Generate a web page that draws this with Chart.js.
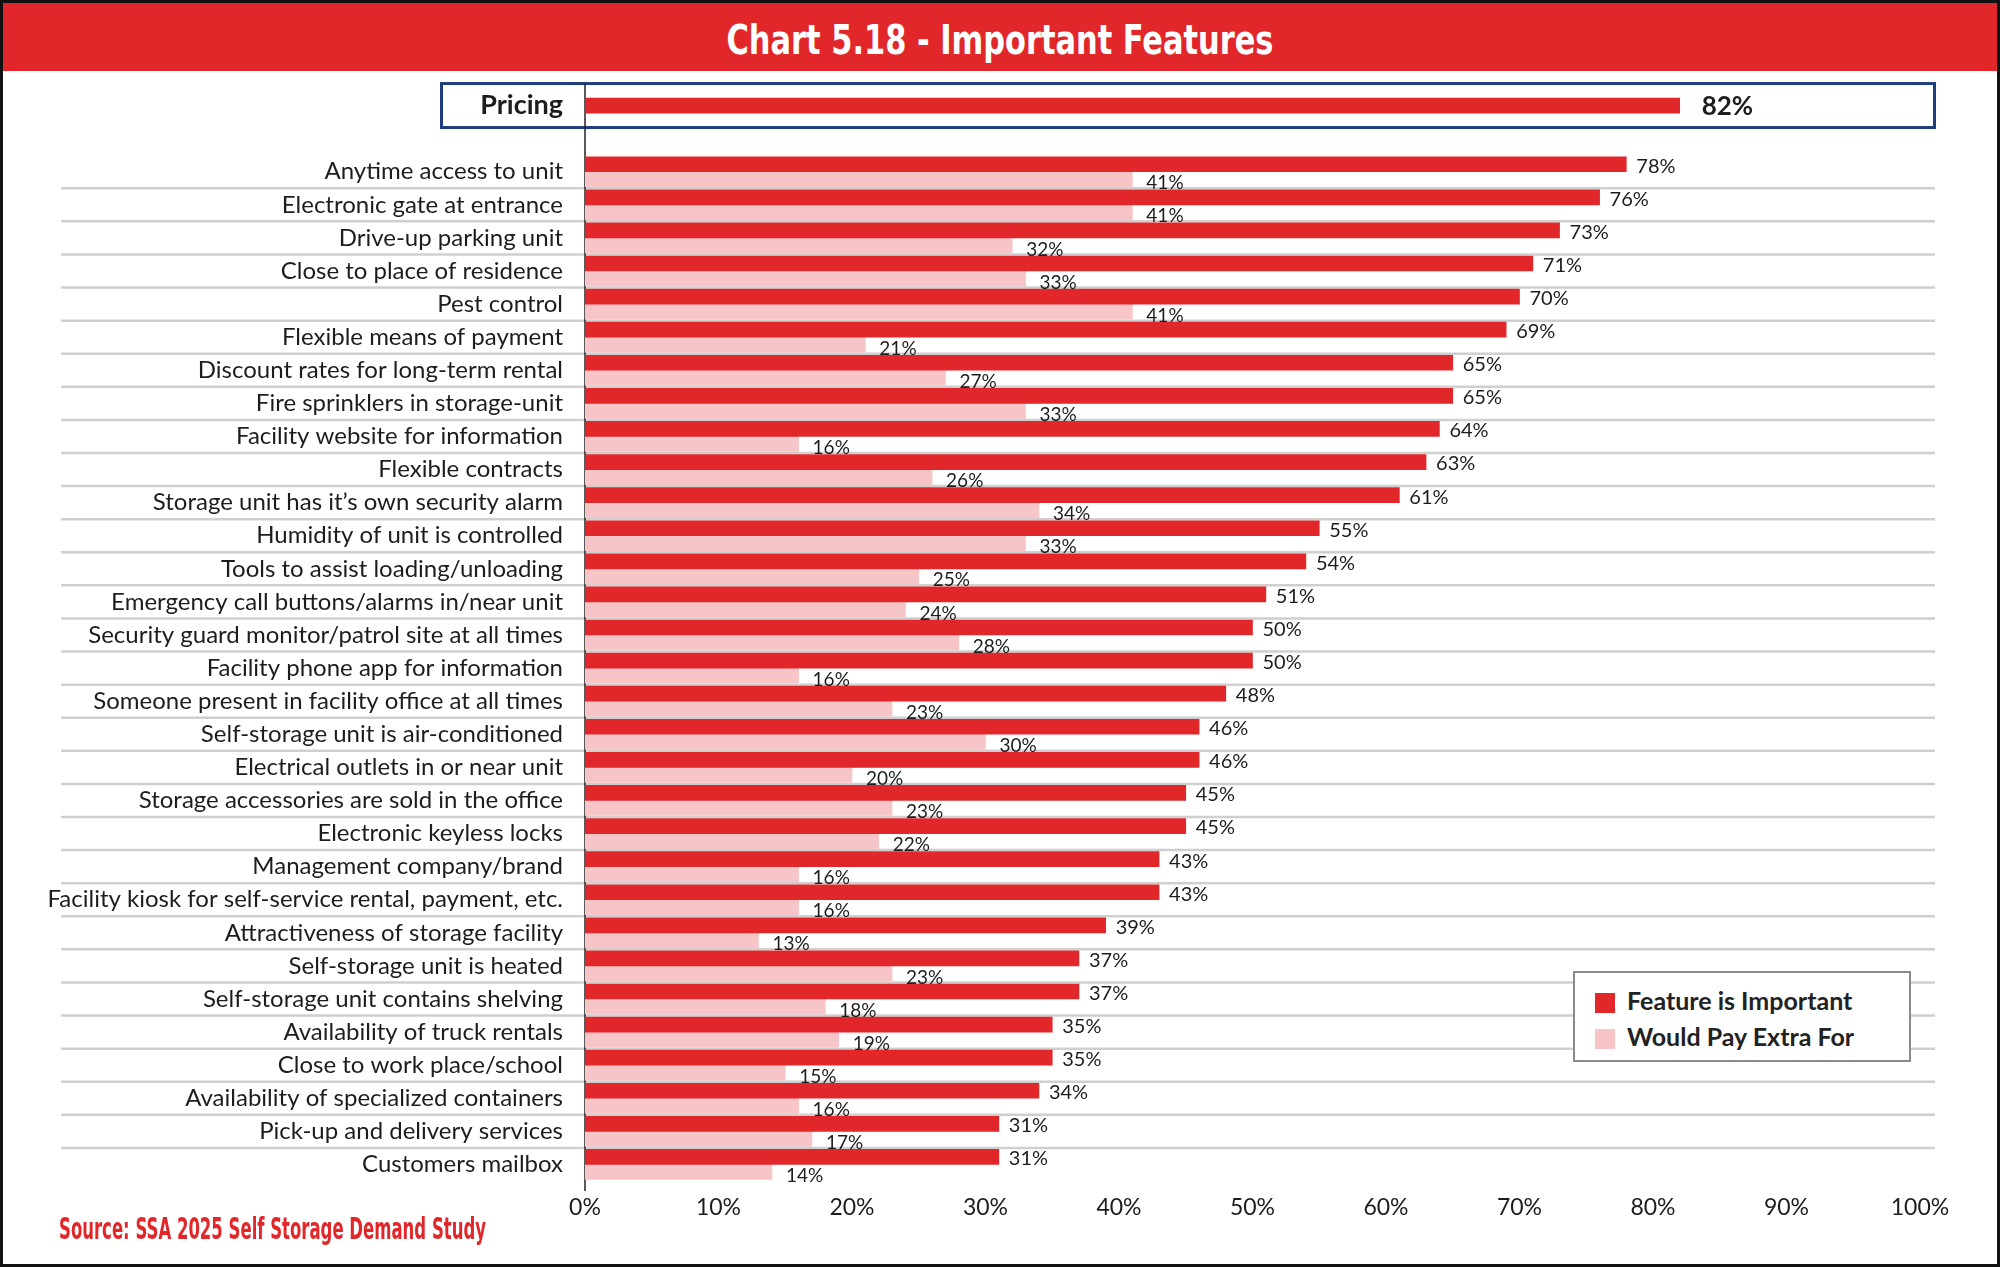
<!DOCTYPE html>
<html>
<head>
<meta charset="utf-8">
<script src="https://cdn.jsdelivr.net/npm/chart.js@4.4.1/dist/chart.umd.min.js"></script>
<style>
html, body { margin: 0; padding: 0; background: #fff; }
#page { position: relative; width: 2000px; height: 1267px; overflow: hidden; background: #fff; }
#chart { position: absolute; left: 0; top: 0; }
#titlebar { position: absolute; left: 0; top: 0; width: 2000px; height: 71px; background: #e1272a; }
#title { position: absolute; top: 18px; left: 1000px; white-space: nowrap; color: #fff;
  font-family: "Liberation Sans Narrow", "DejaVu Sans Condensed", sans-serif; font-weight: bold; font-size: 40px; line-height: 44px; }
#source { position: absolute; left: 59px; top: 1210px; white-space: nowrap; color: #e1272a;
  font-family: "Liberation Sans Narrow", "DejaVu Sans Condensed", sans-serif; font-weight: bold; font-size: 31px; line-height: 36px; }
#legend { position: absolute; left: 1573px; top: 971px; width: 338px; height: 91px; box-sizing: border-box;
  border: 2px solid #8a8a8a; background: #fff; font-family: Lato, sans-serif; font-weight: bold; font-size: 25px; color: #222; }
#legend .item { position: absolute; left: 20px; height: 30px; line-height: 30px; white-space: nowrap; }
#legend .sw { display: inline-block; width: 20px; height: 20px; vertical-align: -3px; margin-right: 12px; }
#frame { position: absolute; left: 0; top: 0; width: 2000px; height: 1267px; box-sizing: border-box; border: 3px solid #111; pointer-events: none; }
</style>
</head>
<body>
<div id="page">
  <div id="titlebar"></div>
  <div id="title">Chart 5.18 - Important Features</div>
  <canvas id="chart" width="2000" height="1267"></canvas>
  <div id="legend">
    <div class="item" style="top:12px"><span class="sw" style="background:#e1272a"></span>Feature is Important</div>
    <div class="item" style="top:48px"><span class="sw" style="background:#f7c4c8"></span>Would Pay Extra For</div>
  </div>
  <div id="source">Source: SSA 2025 Self Storage Demand Study</div>
  <div id="frame"></div>
</div>
<script>
// categories (Pricing on top, then a spacer row, then the other features)
const features = [
  'Pricing', '',
  'Anytime access to unit',
  'Electronic gate at entrance',
  'Drive-up parking unit',
  'Close to place of residence',
  'Pest control',
  'Flexible means of payment',
  'Discount rates for long-term rental',
  'Fire sprinklers in storage-unit',
  'Facility website for information',
  'Flexible contracts',
  'Storage unit has it\u2019s own security alarm',
  'Humidity of unit is controlled',
  'Tools to assist loading/unloading',
  'Emergency call buttons/alarms in/near unit',
  'Security guard monitor/patrol site at all times',
  'Facility phone app for information',
  'Someone present in facility office at all times',
  'Self-storage unit is air-conditioned',
  'Electrical outlets in or near unit',
  'Storage accessories are sold in the office',
  'Electronic keyless locks',
  'Management company/brand',
  'Facility kiosk for self-service rental, payment, etc.',
  'Attractiveness of storage facility',
  'Self-storage unit is heated',
  'Self-storage unit contains shelving',
  'Availability of truck rentals',
  'Close to work place/school',
  'Availability of specialized containers',
  'Pick-up and delivery services',
  'Customers mailbox'
];
const featureImportant = [82, null, 78, 76, 73, 71, 70, 69, 65, 65, 64, 63, 61, 55, 54, 51, 50, 50, 48, 46, 46, 45, 45, 43, 43, 39, 37, 37, 35, 35, 34, 31, 31];
const wouldPayExtra    = [null, null, 41, 41, 32, 33, 41, 21, 27, 33, 16, 26, 34, 33, 25, 24, 28, 16, 23, 30, 20, 23, 22, 16, 16, 13, 23, 18, 19, 15, 16, 17, 14];
const xTicks = [0, 10, 20, 30, 40, 50, 60, 70, 80, 90, 100];

const RED = '#e1272a';
const PINK = '#f7c4c8';

// squeeze condensed texts to the widths in the reference
function fitWidth(id, target, centered) {
  const el = document.getElementById(id);
  const w = el.getBoundingClientRect().width;
  const k = target / w;
  el.style.transformOrigin = 'left top';
  el.style.transform = (centered ? 'translateX(' + (-target / 2) + 'px) ' : '') + 'scaleX(' + k + ')';
}
fitWidth('title', 547, true);
fitWidth('source', 427, false);

const decorations = {
  id: 'decorations',
  beforeDatasetsDraw(chart) {
    const ctx = chart.ctx;
    const y = chart.scales.y;
    const x0 = chart.scales.x.getPixelForValue(0);
    const step = y.getPixelForValue(1) - y.getPixelForValue(0);
    ctx.save();
    // row separators
    ctx.strokeStyle = '#cfcfcf';
    ctx.lineWidth = 2.5;
    for (let i = 2; i < features.length - 1; i++) {
      const yy = y.getPixelForValue(i) + step / 2;
      ctx.beginPath();
      ctx.moveTo(61, yy);
      ctx.lineTo(1935, yy);
      ctx.stroke();
    }
    // Pricing box
    const pc = y.getPixelForValue(0);
    ctx.strokeStyle = '#1d3d7c';
    ctx.lineWidth = 3;
    ctx.strokeRect(441.5, pc - 22, 1493, 44);
    // value axis line
    ctx.strokeStyle = '#222';
    ctx.lineWidth = 1.5;
    ctx.beginPath();
    ctx.moveTo(x0, pc - 22);
    ctx.lineTo(x0, chart.chartArea.bottom + 10);
    ctx.stroke();
    ctx.restore();
  },
  afterDatasetsDraw(chart) {
    const ctx = chart.ctx;
    ctx.save();
    ctx.fillStyle = '#1d1d1d';
    ctx.textBaseline = 'middle';
    ctx.textAlign = 'left';
    chart.data.datasets.forEach((ds, d) => {
      const meta = chart.getDatasetMeta(d);
      meta.data.forEach((el, i) => {
        const v = ds.data[i];
        if (v === null) return;
        if (d === 0 && i === 0) {
          ctx.font = 'bold 26px Lato';
          ctx.fillText(v + '%', el.x + 22, el.y + 1);
        } else if (d === 0) {
          ctx.font = '20px Lato';
          ctx.fillText(v + '%', el.x + 10, el.y + 2);
        } else {
          ctx.font = '19px Lato';
          ctx.fillText(v + '%', el.x + 14, el.y + 4);
        }
      });
    });
    ctx.restore();
  }
};

new Chart(document.getElementById('chart'), {
  type: 'bar',
  data: {
    labels: features,
    datasets: [
      { label: 'Feature is Important', data: featureImportant, backgroundColor: RED, barThickness: 15 },
      { label: 'Would Pay Extra For', data: wouldPayExtra, backgroundColor: PINK, barThickness: 15 }
    ]
  },
  options: {
    indexAxis: 'y',
    responsive: false,
    animation: false,
    skipNull: true,
    layout: { padding: { top: 89, right: 80, left: 0, bottom: 0 } },
    plugins: { legend: { display: false }, tooltip: { enabled: false } },
    scales: {
      x: {
        min: 0, max: 100,
        afterBuildTicks: (s) => { s.ticks = xTicks.map(v => ({ value: v })); },
        afterFit: (s) => { s.height = 86; },
        grid: { display: false },
        border: { display: false },
        ticks: { padding: 5, color: '#1d1d1d', font: { family: 'Lato', size: 23 }, callback: (v) => v + '%' }
      },
      y: {
        afterFit: (s) => { s.width = 585; },
        grid: { display: false },
        border: { display: false },
        ticks: {
          autoSkip: false,
          padding: 14,
          color: '#1d1d1d',
          font: (c) => c.index === 0 ? { family: 'Lato', size: 27, weight: 'bold' } : { family: 'Lato', size: 24 }
        }
      }
    }
  },
  plugins: [decorations]
});
</script>
</body>
</html>
